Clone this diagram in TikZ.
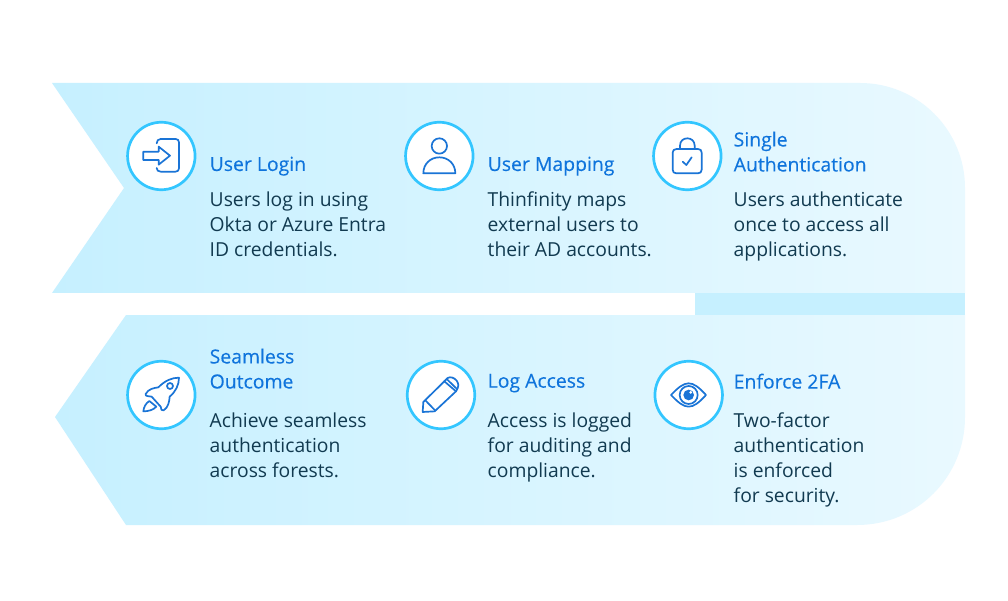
\documentclass[tikz,border=0pt]{standalone}
\usepackage{fontspec}
\setmainfont{Open Sans}
\definecolor{bandL}{HTML}{C6F0FF}
\definecolor{bandR}{HTML}{E9F9FF}
\definecolor{ringc}{HTML}{33C6FF}
\definecolor{iconc}{HTML}{1A74D6}
\definecolor{titlec}{HTML}{0F74DC}
\definecolor{bodyc}{HTML}{113A50}
\newfontfamily\ttlfont[FakeBold=0.25]{Open Sans}
\newcommand{\lineup}{\rule{0pt}{14pt}}
\tikzset{
  band/.style={left color=bandL,right color=bandR,draw=none},
  ring/.style={circle,draw=ringc,line width=2.7pt,fill=white,minimum size=67.5pt,inner sep=0pt},
  iconline/.style={draw=iconc,line width=1.7pt,line join=round,line cap=round},
  ttl/.style={anchor=north west,inner sep=0pt,align=left,text=titlec,font=\ttlfont\fontsize{19.4}{25}\selectfont},
  txt/.style={anchor=north west,inner sep=0pt,align=left,text=bodyc,font=\fontsize{19.3}{25}\selectfont},
  zoomed/.style={shift={(#1)},x=0.3333pt,y=-0.3333pt}
}
\begin{document}
\begin{tikzpicture}[x=1pt,y=-1pt]
\useasboundingbox (0,0) rectangle (1008,601);
\fill[white] (0,0) rectangle (1008,601);
% bands
\path[band] (52,83) -- (860,83) .. controls (918,83) and (965,130) .. (965,188) -- (965,293) -- (52,293) -- (124,188) -- cycle;
\fill[bandL] (695,293) rectangle (965,315);
\path[band] (126,315) -- (965,315) -- (965,417) .. controls (965,477) and (917,525) .. (857,525) -- (126,525) -- (55,417) -- cycle;
% rings
\node[ring] (r1) at (161.3,156) {};
\node[ring] (r2) at (439.3,156) {};
\node[ring] (r3) at (687.3,156) {};
\node[ring] (r4) at (161.3,395) {};
\node[ring] (r5) at (441,395) {};
\node[ring] (r6) at (688.7,395) {};
% icon 1: login
\begin{scope}[zoomed={110,110}]
\draw[iconline] (140,100) .. controls (140,92) and (145,87) .. (152,87) -- (197,87) .. controls (203,87) and (207,91) .. (207,97) -- (207,175) .. controls (207,181) and (203,185) .. (197,185) -- (152,185) .. controls (145,185) and (140,181) .. (140,174);
\draw[iconline] (100,125) -- (146,125) -- (146,110) -- (180,137) -- (146,164) -- (146,150) -- (100,150) -- cycle;
\end{scope}
% icon 2: user
\begin{scope}[zoomed={395,110}]
\draw[iconline] (133,108) circle[radius=23];
\draw[iconline] (85,190) -- (181,190) .. controls (181,162) and (160,142) .. (133,142) .. controls (106,142) and (85,162) .. (85,190) -- cycle;
\end{scope}
% icon 3: lock
\begin{scope}[zoomed={645,110}]
\draw[iconline] (95,117) -- (159,117) .. controls (166,117) and (170,121) .. (170,128) -- (170,179) .. controls (170,186) and (166,190) .. (159,190) -- (94,190) .. controls (87,190) and (83,186) .. (83,179) -- (83,128) .. controls (83,121) and (87,117) .. (95,117) -- cycle;
\draw[iconline] (105,117) -- (105,107) .. controls (105,93) and (115,85) .. (127,85) .. controls (139,85) and (149,93) .. (149,107) -- (149,117);
\draw[iconline] (113,155) -- (124,165) -- (140,142);
\end{scope}
% icon 4: rocket
\begin{scope}[zoomed={115,350}]
\draw[iconline] (192,83) .. controls (170,83) and (150,92) .. (130,112) .. controls (118,114) and (100,116) .. (92,132) .. controls (90,140) and (102,138) .. (110,140) -- (137,170) .. controls (138,178) and (140,184) .. (146,181) .. controls (160,172) and (163,155) .. (164,140) .. controls (182,125) and (192,105) .. (192,83) -- cycle;
\draw[iconline] (165,108) circle[radius=9];
\draw[iconline] (103,153) .. controls (92,160) and (86,172) .. (85,184) .. controls (100,184) and (115,180) .. (124,170) -- cycle;
\end{scope}
% icon 5: pencil
\begin{scope}[zoomed={395,350}]
\draw[iconline] (85,156) -- (148,94) -- (183,124) -- (119,184) -- (83,186) -- cycle;
\draw[iconline] (148,94) -- (158,84) .. controls (166,79) and (178,83) .. (185,92) .. controls (192,102) and (192,110) .. (183,124);
\draw[iconline] (92,152) -- (121,182);
\draw[iconline] (155,87) -- (186,117);
\end{scope}
% icon 6: eye
\begin{scope}[zoomed={645,350}]
\draw[iconline] (78,135) .. controls (100,112) and (115,100) .. (131,100) .. controls (147,100) and (162,112) .. (183,135) .. controls (162,158) and (147,170) .. (131,170) .. controls (115,170) and (100,158) .. (78,135) -- cycle;
\draw[iconline] (131,135) circle[radius=27];
\fill[iconc] (131,135) circle[radius=16];
\fill[white] (137,127) circle[radius=4.5];
\end{scope}
% text
\node[ttl] (t1) at (209.5,156.5) {\lineup User Login};
\node[txt] (b1) at (209.5,192) {\lineup Users log in using\\Okta or Azure Entra\\ID credentials.};
\node[ttl] (t2) at (487.5,156.5) {\lineup User Mapping};
\node[txt] (b2) at (487.5,192) {\lineup Thinfinity maps\\external users to\\their AD accounts.};
\node[ttl] (t3) at (733.5,131.5) {\lineup Single\\Authentication};
\node[txt] (b3) at (733.5,192) {\lineup Users authenticate\\once to access all\\applications.};
\node[ttl] (t4) at (209.5,348.5) {\lineup Seamless\\Outcome};
\node[txt] (b4) at (209.5,412.5) {\lineup Achieve seamless\\authentication\\across forests.};
\node[ttl] (t5) at (487.5,373.5) {\lineup Log Access};
\node[txt] (b5) at (487.5,412.5) {\lineup Access is logged\\for auditing and\\compliance.};
\node[ttl] (t6) at (733.5,373.5) {\lineup Enforce 2FA};
\node[txt] (b6) at (733.5,412.5) {\lineup Two-factor\\authentication\\is enforced\\for security.};
\end{tikzpicture}
\end{document}
